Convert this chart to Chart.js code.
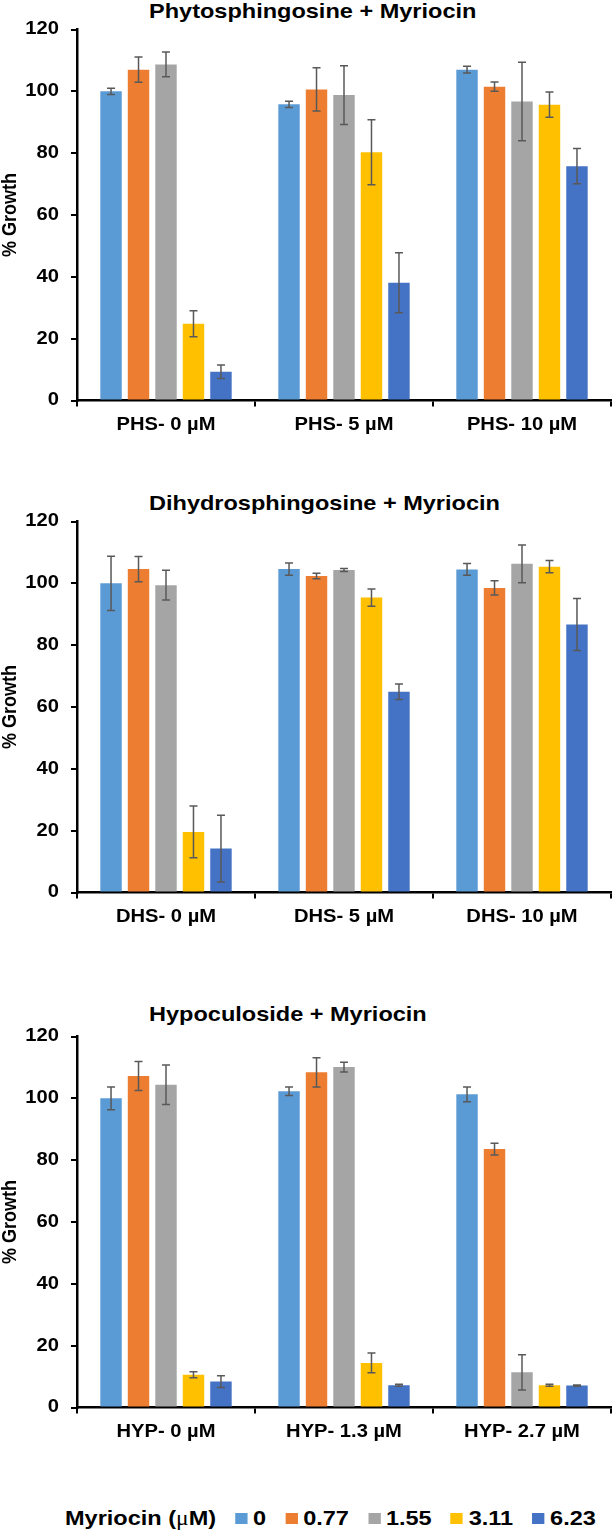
<!DOCTYPE html>
<html>
<head>
<meta charset="utf-8">
<script src="https://cdn.jsdelivr.net/npm/chart.js@4/dist/chart.umd.min.js"></script>
<style>
  html, body { margin: 0; padding: 0; background: #fff; }
  body { width: 614px; height: 1532px; position: relative; overflow: hidden; }
  .panel { position: absolute; left: 0; width: 614px; height: 441px; }
  .titulo {
    position: absolute; left: 149px; height: 21px; line-height: 21px;
    font: bold 21px "Liberation Sans", Arial, sans-serif; color: #000; white-space: nowrap;
    transform: scaleX(1.12); transform-origin: left center;
  }
  #legend {
    position: absolute; left: 65px; top: 1505px; height: 26px;
    display: flex; align-items: center;
    font: bold 21px "Liberation Sans", Arial, sans-serif; color: #000; white-space: nowrap;
    transform: scaleX(1.12); transform-origin: left center;
  }
  #legend .mu { font-family: "Liberation Serif", "DejaVu Serif", serif; font-weight: normal; }
  #legend .item { display: flex; align-items: center; margin-left: 17px; }
  #legend .box { width: 11px; height: 11px; margin-right: 5px; }
</style>
</head>
<body>
<div class="titulo" style="top:-1px">Phytosphingosine + Myriocin</div>
<div class="titulo" style="top:491px">Dihydrosphingosine + Myriocin</div>
<div class="titulo" style="top:1002px">Hypoculoside + Myriocin</div>
<div class="panel" style="top:0px"><canvas id="graficoPHS"></canvas></div>
<div class="panel" style="top:491.5px"><canvas id="graficoDHS"></canvas></div>
<div class="panel" style="top:1006.5px"><canvas id="graficoHYP"></canvas></div>
<div id="legend"><span>Myriocin (<span class="mu">μ</span>M)</span></div>

<script>
// doses de miriocina (séries) e cores estilo Excel
const myriocinDoses = ['0', '0.77', '1.55', '3.11', '6.23'];
const seriesColors = ['#5B9BD5', '#ED7D31', '#A5A5A5', '#FFC000', '#4472C4'];

// categorias de cada painel
const phsLabels = ['PHS- 0 µM', 'PHS- 5 µM', 'PHS- 10 µM'];
const dhsLabels = ['DHS- 0 µM', 'DHS- 5 µM', 'DHS- 10 µM'];
const hypLabels = ['HYP- 0 µM', 'HYP- 1.3 µM', 'HYP- 2.7 µM'];

// linhas = dose de miriocina, colunas = categoria
const phsMean = [
  [100.0, 95.8, 107.0],
  [107.0, 100.6, 101.5],
  [108.7, 98.8, 96.7],
  [24.8, 80.3, 95.7],
  [9.3, 38.1, 75.8]
];
const phsErr = [
  [1.0, 1.0, 1.1],
  [4.1, 7.0, 1.5],
  [4.0, 9.5, 12.7],
  [4.2, 10.5, 4.1],
  [2.2, 9.7, 5.7]
];

const dhsMean = [
  [100.0, 104.6, 104.5],
  [104.6, 102.4, 98.5],
  [99.4, 104.3, 106.3],
  [19.6, 95.4, 105.4],
  [14.2, 64.9, 86.7]
];
const dhsErr = [
  [8.8, 2.0, 1.9],
  [4.1, 0.9, 2.3],
  [4.8, 0.5, 6.1],
  [8.4, 2.8, 2.0],
  [10.8, 2.5, 8.4]
];

const hypMean = [
  [100.0, 102.3, 101.3],
  [107.2, 108.4, 83.6],
  [104.4, 110.1, 11.4],
  [10.6, 14.4, 7.2],
  [8.4, 7.2, 7.1]
];
const hypErr = [
  [3.7, 1.4, 2.4],
  [4.7, 4.7, 1.9],
  [6.4, 1.6, 5.7],
  [1.0, 3.2, 0.3],
  [1.9, 0.3, 0.2]
];

const yTicks = [0, 20, 40, 60, 80, 100, 120];

const FONT = '"Liberation Sans", Arial, sans-serif';
// o texto da figura original é um pouco "esticado" na horizontal
const TEXT_STRETCH = 1.12;

// plugin simples para desenhar as barras de erro
const errorBars = {
  id: 'errorBars',
  afterDatasetsDraw(chart) {
    const ctx = chart.ctx;
    const y = chart.scales.y;
    ctx.save();
    ctx.strokeStyle = '#595959';
    ctx.lineWidth = 1.5;
    chart.data.datasets.forEach((ds, i) => {
      const meta = chart.getDatasetMeta(i);
      meta.data.forEach((bar, j) => {
        const v = ds.data[j], e = ds.errors[j];
        const yTop = y.getPixelForValue(v + e);
        const yBot = y.getPixelForValue(v - e);
        const x = bar.x;
        ctx.beginPath();
        ctx.moveTo(x, yTop); ctx.lineTo(x, yBot);
        ctx.moveTo(x - 4, yTop); ctx.lineTo(x + 4, yTop);
        ctx.moveTo(x - 4, yBot); ctx.lineTo(x + 4, yBot);
        ctx.stroke();
      });
    });
    ctx.restore();
  }
};

// estica o texto do canvas (ticks e título do eixo) na direção horizontal da figura
const esticarTexto = {
  id: 'esticarTexto',
  beforeDraw(chart) {
    const ctx = chart.ctx;
    if (ctx._esticado) return;
    const orig = ctx.fillText;
    ctx.fillText = function (text, x, y) {
      const m = this.getTransform();
      this.save();
      this.translate(x, y);
      if (Math.abs(m.b) > 0.5) this.scale(1, TEXT_STRETCH); else this.scale(TEXT_STRETCH, 1);
      orig.call(this, text, 0, 0);
      this.restore();
    };
    ctx._esticado = true;
  }
};

function criarGrafico(id, labels, means, errs) {
  const canvas = document.getElementById(id);
  new Chart(canvas, {
    type: 'bar',
    data: {
      labels: labels,
      datasets: myriocinDoses.map((dose, i) => ({
        label: dose,
        data: means[i],
        errors: errs[i],
        backgroundColor: seriesColors[i],
        borderWidth: 0,
        barPercentage: 0.78,
        categoryPercentage: 0.772
      }))
    },
    options: {
      responsive: true,
      maintainAspectRatio: false,
      animation: false,
      layout: { padding: { left: 0, right: 3, top: 29.5, bottom: 0 }, autoPadding: false },
      plugins: {
        legend: { display: false },
        tooltip: { enabled: false },
        title: { display: false }
      },
      scales: {
        x: {
          grid: { offset: true, drawOnChartArea: false, drawTicks: true, tickLength: 6, color: '#000', lineWidth: 2 },
          border: { display: true, color: '#000', width: 2.5 },
          ticks: { color: '#000', padding: 8, font: { family: FONT, size: 18, weight: 'bold' } },
          afterFit(scale) { scale.height = 40.5; }
        },
        y: {
          min: yTicks[0],
          max: yTicks[yTicks.length - 1],
          afterBuildTicks(scale) { scale.ticks = yTicks.map(v => ({ value: v })); },
          grid: { drawOnChartArea: false, drawTicks: true, tickLength: 6, color: '#000', lineWidth: 2 },
          border: { display: true, color: '#000', width: 2.5 },
          ticks: { color: '#000', padding: 12, font: { family: FONT, size: 18, weight: 'bold' } },
          title: {
            display: true,
            text: '% Growth',
            color: '#000',
            font: { family: FONT, size: 18, weight: 'bold', lineHeight: 1.0 },
            padding: { top: 1, bottom: 0 }
          },
          afterFit(scale) { scale.width = 77; }
        }
      }
    },
    plugins: [esticarTexto, errorBars]
  });
}

criarGrafico('graficoPHS', phsLabels, phsMean, phsErr);
criarGrafico('graficoDHS', dhsLabels, dhsMean, dhsErr);
criarGrafico('graficoHYP', hypLabels, hypMean, hypErr);

// legenda em HTML, montada a partir das séries
const legenda = document.getElementById('legend');
myriocinDoses.forEach((dose, i) => {
  const item = document.createElement('span');
  item.className = 'item';
  item.innerHTML = '<span class="box" style="background:' + seriesColors[i] + '"></span><span>' + dose + '</span>';
  legenda.appendChild(item);
});
</script>
</body>
</html>
